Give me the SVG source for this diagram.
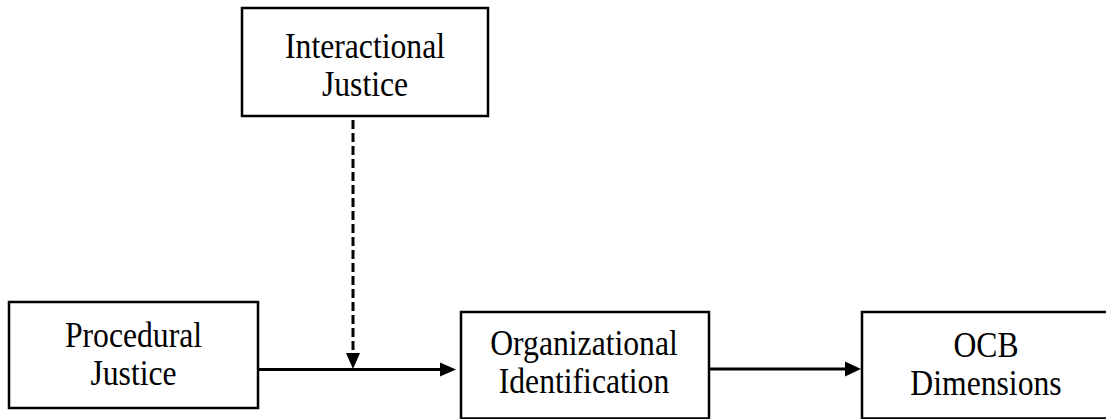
<svg xmlns="http://www.w3.org/2000/svg" width="1106" height="419" viewBox="0 0 1106 419">
<style>
.box{fill:#fff;stroke:#000;stroke-width:2.5}
.lbl{font-family:"Liberation Serif","Times New Roman",serif;font-size:36px;fill:#000;text-anchor:middle}
.ln{stroke:#000;stroke-width:3;fill:none}
.dash{stroke:#000;stroke-width:3;fill:none;stroke-dasharray:9 4}
.head{fill:#000}
</style>
<rect width="1106" height="419" fill="#fff"/>
<g id="interactional">
<rect class="box" x="242" y="8" width="246" height="108"/>
<text class="lbl" transform="translate(365,58) scale(0.88,1)">Interactional</text>
<text class="lbl" transform="translate(365,96) scale(0.88,1)">Justice</text>
</g>
<g id="procedural">
<rect class="box" x="9" y="302" width="249" height="106"/>
<text class="lbl" transform="translate(133.5,347) scale(0.88,1)">Procedural</text>
<text class="lbl" transform="translate(133.5,385) scale(0.88,1)">Justice</text>
</g>
<g id="organizational">
<rect class="box" x="461" y="312" width="248" height="106.5"/>
<text class="lbl" transform="translate(584,355) scale(0.88,1)">Organizational</text>
<text class="lbl" transform="translate(584,393) scale(0.88,1)">Identification</text>
</g>
<g id="ocb">
<rect class="box" x="862" y="312" width="250" height="106.5"/>
<text class="lbl" transform="translate(986,357) scale(0.88,1)">OCB</text>
<text class="lbl" transform="translate(986,395) scale(0.88,1)">Dimensions</text>
</g>
<g id="connectors">
<line class="ln" x1="258" y1="369.5" x2="442" y2="369.5"/>
<polygon class="head" points="440,362.5 456,369.5 440,376.5"/>
<line class="dash" x1="353" y1="120" x2="353" y2="355"/>
<polygon class="head" points="346,353 360,353 353,369"/>
<line class="ln" x1="709" y1="369" x2="847" y2="369"/>
<polygon class="head" points="845,361.5 861,369 845,376.5"/>
</g>
</svg>
